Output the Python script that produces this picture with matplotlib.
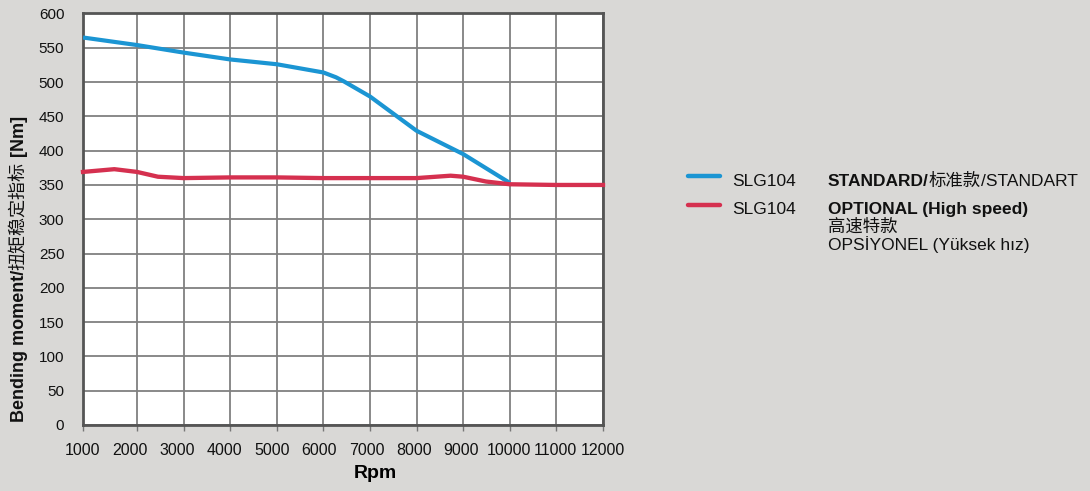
import numpy as np
import matplotlib
matplotlib.use("Agg")
import matplotlib.pyplot as plt
from matplotlib.lines import Line2D
from matplotlib import font_manager

# --- andmed (loetud pildilt) ---
rpm_std = [1000, 2000, 3000, 4000, 5000, 5500, 6000, 6270, 6440, 7000, 7540, 8000, 9000, 10000]
nm_std = [565, 554, 543, 533, 526, 520, 514, 507, 501, 479, 452, 429, 395, 353]

rpm_opt = [1000, 1580, 2000, 2450, 3000, 4000, 5000, 6000, 7000, 8000, 8730, 9000, 9490, 10000, 11000, 12000]
nm_opt = [369, 373, 369, 362, 360, 361, 361, 360, 360, 360, 363.5, 362, 355, 351, 350, 350]

x_ticks = [1000, 2000, 3000, 4000, 5000, 6000, 7000, 8000, 9000, 10000, 11000, 12000]
y_ticks = list(range(0, 601, 50))

BG = "#d9d8d6"
BLUE = "#1b95d3"
RED = "#d5304f"

names = {f.name for f in font_manager.fontManager.ttflist}
LAT = "Liberation Sans"
NARROW = "Liberation Sans Narrow" if "Liberation Sans Narrow" in names else LAT
FAM = [LAT, "Noto Sans CJK SC"]
plt.rcParams["font.family"] = FAM

W, H = 1090, 491
fig = plt.figure(figsize=(W / 100, H / 100), dpi=100, facecolor=BG)
ax = fig.add_axes([83 / W, 1 - 425 / H, 520 / W, 411.5 / H])
ax.set_facecolor("white")

# esimene vahemik (1000-2000) on pildil laiem
k = 54 / 46.6
def fwd(x):
    x = np.asarray(x, dtype=float)
    return np.where(x < 2000, (x - 1000) * k, 1000 * k + (x - 2000))
def inv(p):
    p = np.asarray(p, dtype=float)
    return np.where(p < 1000 * k, p / k + 1000, p - 1000 * k + 2000)
ax.set_xscale("function", functions=(fwd, inv))

ax.plot(rpm_std, nm_std, color=BLUE, lw=3.0, solid_capstyle="butt", solid_joinstyle="round", zorder=4)
ax.plot(rpm_opt, nm_opt, color=RED, lw=3.1, solid_capstyle="projecting", solid_joinstyle="round",
        clip_on=False, zorder=5)

ax.set_xlim(1000, 12000)
ax.set_ylim(0, 600)
ax.set_xticks(x_ticks)
ax.set_yticks(y_ticks)
ax.grid(True, color="#808080", lw=1.3)
ax.set_axisbelow(True)
for s in ax.spines.values():
    s.set_color("#555555")
    s.set_linewidth(2)
ax.tick_params(axis="y", length=0, pad=13.5, labelsize=11, labelcolor="#111111")
ax.tick_params(axis="x", length=4, width=1, color="#777777", labelbottom=False)

# x-telje sildid on pildil ühtlaste vahedega
for v in x_ticks:
    ax.text((v - 1000) / 11000, -0.043, str(v), transform=ax.transAxes, ha="center", va="top",
            fontsize=11.5, family=[NARROW, LAT], color="#111111")

fig.text(375 / W, 1 - 474 / H, "Rpm", ha="center", va="center", fontsize=14, fontweight="bold")

r = fig.canvas.get_renderer()

def pieces(x, y, parts, rot=0, size=13):
    # paneb tekstijupid järjest üksteise järele
    for s, w in parts:
        t = fig.text(x / W, 1 - y / H, s, fontsize=size, fontweight=w, family=FAM,
                     rotation=rot, rotation_mode="anchor", ha="left", va="baseline", color="#111111")
        bb = t.get_window_extent(r)
        if rot == 90:
            y -= bb.height
        else:
            x += bb.width

pieces(24, 422, [("Bending moment/", "bold"), ("扭矩稳定指标", "normal"), (" [Nm]", "bold")], rot=90)

# legend
fig.add_artist(Line2D([688 / W, 720 / W], [1 - 176 / H, 1 - 176 / H], color=BLUE, lw=3.2, solid_capstyle="round"))
fig.add_artist(Line2D([688 / W, 720 / W], [1 - 205 / H, 1 - 205 / H], color=RED, lw=3.2, solid_capstyle="round"))
fs = 12.5
fig.text(732 / W, 1 - 186 / H, "SLG104", fontsize=fs, va="baseline", color="#111111")
fig.text(732 / W, 1 - 214 / H, "SLG104", fontsize=fs, va="baseline", color="#111111")
pieces(828, 186, [("STANDARD/", "bold"), ("标准款", "normal"), ("/STANDART", "normal")], size=fs)
pieces(828, 214, [("OPTIONAL (High speed)", "bold")], size=fs)
pieces(828, 232, [("高速特款", "normal")], size=fs)
pieces(828, 250, [("OPSİYONEL (Yüksek hız)", "normal")], size=fs)

fig.savefig("out.png", dpi=100, facecolor=BG)
